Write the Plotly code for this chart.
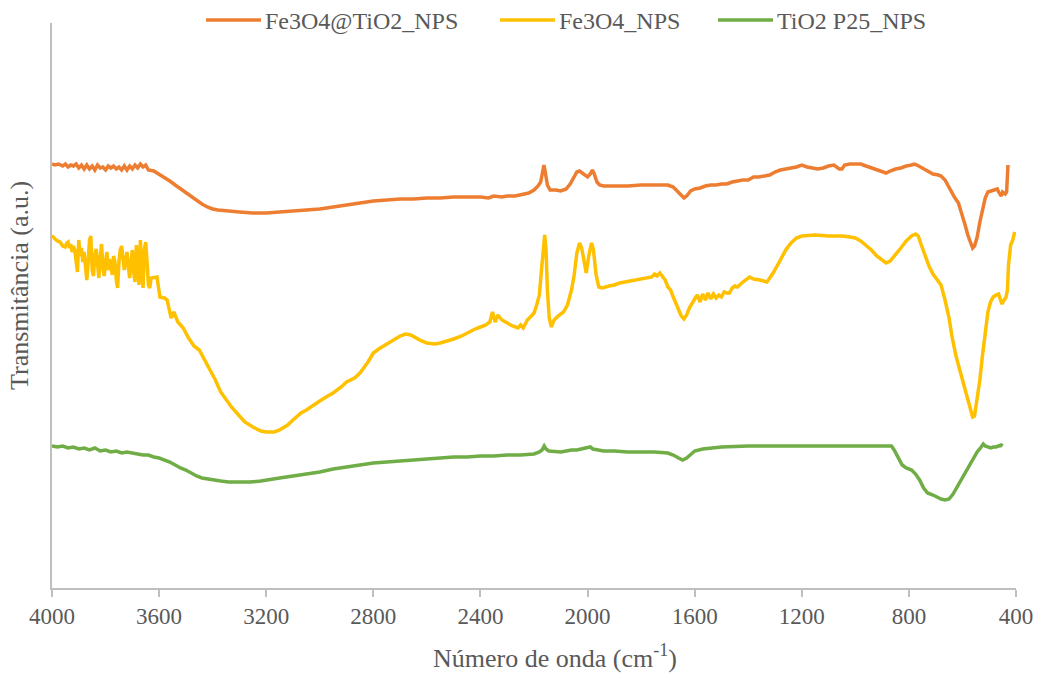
import plotly.graph_objects as go

# FTIR spectra: wavenumber (cm-1) and transmittance (arbitrary units)
fe3o4_tio2_wn = [4000, 3990, 3975, 3960, 3950, 3940, 3930, 3920, 3910, 3900, 3890, 3880, 3870, 3860,
                 3850, 3840, 3830, 3820, 3810, 3800, 3790, 3780, 3770, 3760, 3750, 3740, 3730, 3720,
                 3710, 3700, 3690, 3680, 3670, 3660, 3650, 3640, 3620, 3600, 3580, 3560, 3540, 3520,
                 3500, 3480, 3460, 3440, 3420, 3400, 3380, 3350, 3300, 3250, 3200, 3150, 3100, 3050,
                 3000, 2950, 2900, 2850, 2800, 2750, 2700, 2650, 2600, 2550, 2500, 2450, 2400, 2370,
                 2350, 2320, 2300, 2270, 2240, 2220, 2200, 2185, 2175, 2168, 2163, 2158, 2150, 2140,
                 2120, 2100, 2080, 2065, 2050, 2040, 2030, 2020, 2010, 2000, 1990, 1982, 1975, 1965,
                 1955, 1940, 1900, 1850, 1800, 1750, 1700, 1680, 1665, 1650, 1640, 1630, 1615, 1600,
                 1580, 1560, 1540, 1520, 1500, 1480, 1460, 1440, 1420, 1400, 1380, 1360, 1340, 1320,
                 1300, 1280, 1260, 1240, 1220, 1200, 1180, 1160, 1140, 1120, 1100, 1080, 1060, 1050,
                 1040, 1020, 1000, 980, 960, 940, 920, 900, 885, 870, 850, 830, 810, 790, 780, 770,
                 750, 730, 710, 690, 680, 665, 650, 640, 630, 615, 600, 590, 580, 570, 562, 555, 545,
                 535, 525, 515, 505, 495, 480, 470, 465, 460, 455, 450, 445, 440, 435, 432, 430]
fe3o4_tio2_t = [424, 423, 424, 422, 424, 421, 423, 422, 424, 420, 423, 419, 423, 419,
                422, 418, 423, 420, 421, 418, 422, 420, 422, 419, 421, 418, 422, 418,
                422, 419, 423, 420, 424, 421, 423, 418, 417, 414, 411, 407, 403, 399,
                395, 391, 387, 384, 381, 379, 378, 377, 376, 375, 375, 376, 377, 378,
                379, 381, 383, 385, 387, 388, 389, 389, 390, 390, 391, 391, 391, 390,
                392, 391, 392, 392, 394, 395, 398, 402, 406, 416, 423, 416, 403, 398,
                398, 397, 399, 404, 411, 416, 417, 415, 412, 411, 414, 418, 414, 406,
                403, 402, 402, 402, 403, 403, 403, 401, 397, 392, 390, 392, 397, 399,
                400, 402, 403, 403, 404, 404, 406, 407, 408, 408, 411, 411, 412, 413,
                416, 418, 419, 420, 421, 423, 421, 420, 419, 420, 422, 423, 419, 419,
                423, 424, 424, 424, 422, 420, 418, 416, 415, 417, 419, 420, 422, 423, 424, 423,
                420, 417, 414, 413, 412, 408, 400, 395, 391, 385, 373, 363, 353, 345, 340, 342, 351,
                366, 380, 390, 396, 397, 398, 399, 396, 393, 392, 396, 395, 394, 396, 408, 423]

fe3o4_wn = [4000, 3996, 3980, 3970, 3960, 3951, 3945, 3940,
            3935, 3930, 3925, 3920, 3915, 3910, 3905, 3900, 3895, 3890, 3885, 3880, 3875, 3870,
            3865, 3860, 3855, 3850, 3845, 3840, 3835, 3830, 3825, 3820, 3815, 3810, 3805, 3800,
            3795, 3790, 3785, 3780, 3775, 3770, 3765, 3760, 3755, 3750, 3745, 3740, 3735, 3730,
            3725, 3720, 3715, 3710, 3705, 3700, 3695, 3690, 3685, 3680, 3675, 3670, 3665, 3660,
            3655, 3650, 3645, 3640, 3635, 3630,
            3608, 3597, 3580, 3570, 3555, 3545, 3530, 3510,
            3490, 3470, 3450, 3430, 3410, 3390, 3370, 3350, 3330, 3300, 3280, 3250, 3220, 3200,
            3170, 3150, 3120, 3100, 3070, 3050, 3020, 3000, 2970, 2950, 2920, 2900, 2870, 2850,
            2820, 2800, 2780, 2750, 2720, 2700, 2680, 2660, 2640, 2620, 2600, 2570, 2550, 2520,
            2500, 2470, 2450, 2420, 2400, 2380, 2365, 2355, 2345, 2335, 2320, 2300, 2280, 2260,
            2250, 2240, 2225, 2210, 2200, 2190, 2180, 2172, 2165, 2160, 2155, 2150, 2143, 2135,
            2125, 2110, 2090, 2075, 2060, 2050, 2040, 2030, 2022, 2012, 2005, 1995, 1985, 1978,
            1968, 1958, 1945, 1920, 1900, 1880, 1860, 1840, 1820, 1800, 1780, 1760, 1750, 1740,
            1730, 1720, 1710, 1700, 1690, 1680, 1670, 1660, 1650, 1640, 1630, 1620, 1610, 1600,
            1590, 1580, 1570, 1560, 1550, 1540, 1530, 1520, 1510, 1500, 1490, 1480, 1470, 1460,
            1450, 1440, 1420, 1395, 1380, 1356, 1330, 1307, 1280, 1260, 1240, 1220, 1200, 1150,
            1100, 1050, 1020, 1000, 980, 960, 940, 920, 900, 885, 870, 850, 830, 810, 790, 775,
            765, 755, 740, 725, 710, 695, 680, 665, 650, 640, 625, 610, 595, 580, 570, 562, 555,
            545, 535, 525, 515, 505, 495, 485, 475, 465, 458, 452, 445, 438, 432, 428, 420, 412,
            405]
fe3o4_t = [350, 351, 347, 346, 342, 341, 345, 346,
           340, 344, 336, 342, 338, 326, 316, 348, 332, 340, 326, 336, 322, 308,
           326, 348, 352, 318, 312, 333, 339, 326, 310, 330, 344, 320, 312, 326,
           336, 318, 329, 322, 313, 332, 326, 308, 300, 326, 338, 342, 330, 318,
           326, 336, 322, 310, 326, 338, 316, 306, 343, 326, 303, 348, 318, 300,
           338, 346, 326, 303, 300, 310,
           311, 291, 290, 288, 270, 276, 266, 260,
           250, 242, 238, 228, 218, 208, 196, 188, 181, 172, 166, 161, 157, 156,
           156, 158, 163, 168, 175, 178, 184, 187, 192, 195, 201, 206, 210, 215,
           226, 235, 239, 244, 249, 252, 254, 253, 250, 247, 245, 244, 245, 247,
           249, 252, 255, 259, 261, 263, 266, 276, 266, 273, 268, 265, 262, 260,
           263, 260, 268, 272, 275, 283, 293, 318, 343, 353, 338, 298, 270, 261,
           268, 272, 276, 283, 298, 313, 335, 345, 340, 323, 315, 333, 345, 338,
           313, 301, 300, 302, 303, 305, 306, 307, 308, 309, 310, 311, 314, 312,
           315, 312, 308, 301, 298, 291, 285, 278, 272, 269, 273, 280, 285, 289,
           293, 286, 294, 288, 295, 289, 294, 290, 293, 291, 296, 295, 295, 300,
           302, 301, 306, 311, 309, 308, 306, 315, 328, 338, 345, 350, 352, 353,
           352, 352, 351, 350, 347, 343, 338, 332, 328, 325, 327, 333, 340, 347, 352, 354,
           352, 344, 332, 322, 314, 308, 303, 288, 270, 253, 233, 218, 203, 188, 178, 171, 172,
           188, 208, 233, 258, 276, 286, 291, 293, 294, 288, 284, 288, 290, 298, 323, 343, 348,
           356]

tio2_wn = [4000, 3980, 3960, 3940, 3920, 3900, 3880, 3860, 3840, 3820, 3800, 3780, 3760, 3740,
           3720, 3700, 3680, 3660, 3640, 3620, 3600, 3580, 3560, 3540, 3520, 3500, 3480, 3460,
           3440, 3420, 3400, 3370, 3340, 3300, 3260, 3220, 3200, 3150, 3100, 3050, 3000, 2950,
           2900, 2850, 2800, 2750, 2700, 2650, 2600, 2550, 2500, 2450, 2400, 2350, 2300, 2250,
           2200, 2180, 2170, 2162, 2155, 2145, 2120, 2100, 2080, 2060, 2040, 2020, 2000, 1990,
           1980, 1960, 1940, 1900, 1850, 1800, 1750, 1700, 1680, 1660, 1645, 1630, 1615, 1600,
           1570, 1540, 1500, 1400, 1300, 1200, 1100, 1000, 900, 880, 865, 855, 840, 825, 810,
           790, 775, 760, 745, 730, 710, 695, 680, 665, 650, 635, 620, 605, 590, 575, 560, 545,
           530, 522, 515, 505, 495, 485, 475, 465, 455, 450]
tio2_t = [142, 141, 142, 140, 141, 139, 140, 138, 140, 137, 138, 136, 137, 135,
          136, 135, 134, 133, 133, 131, 130, 128, 126, 123, 120, 118, 115, 112,
          110, 109, 108, 107, 106, 106, 106, 107, 108, 110, 112, 114, 116, 119,
          121, 123, 125, 126, 127, 128, 129, 130, 131, 131, 132, 132, 133, 133,
          134, 136, 138, 142, 139, 137, 136, 136, 137, 138, 138, 139, 140, 141,
          139, 138, 137, 137, 136, 136, 136, 135, 133, 130, 128, 130, 134, 137,
          139, 140, 141, 142, 142, 142, 142, 142, 142, 142, 142, 138, 130, 123, 120,
          118, 114, 108, 100, 95, 93, 91, 89, 88, 89, 94, 101, 108, 114, 121, 128, 136,
          141, 144, 142, 141, 140, 141, 141, 142, 143, 142]

series_names = ["Fe3O4@TiO2_NPS", "Fe3O4_NPS", "TiO2 P25_NPS"]
series_colors = ["#ED7D31", "#FFC000", "#70AD47"]
x_ticks = [4000, 3600, 3200, 2800, 2400, 2000, 1600, 1200, 800, 400]

TEXT = "#595959"
AXIS = "#BFBFBF"
FONT = "'Times New Roman', 'Liberation Serif', serif"

W, H = 1039, 675
L, R, T, B = 52, 23, 23, 87
pw, ph = W - L - R, H - T - B


def px_x(p):
    return (p - L) / pw


def px_y(p):
    return 1 - (p - T) / ph


fig = go.Figure()
for name, color, xs, ys in zip(series_names, series_colors,
                               [fe3o4_tio2_wn, fe3o4_wn, tio2_wn],
                               [fe3o4_tio2_t, fe3o4_t, tio2_t]):
    fig.add_trace(go.Scatter(x=xs, y=ys, mode="lines", name=name,
                             line=dict(color=color, width=3.5)))

# legend row across the top: line sample followed by the series name
legend_line_starts = [206, 500, 718]
shapes = []
annotations = []
for name, color, x0 in zip(series_names, series_colors, legend_line_starts):
    shapes.append(dict(type="line", xref="paper", yref="paper",
                       x0=px_x(x0), x1=px_x(x0 + 55), y0=px_y(20), y1=px_y(20),
                       line=dict(color=color, width=3.5)))
    annotations.append(dict(text=name, xref="paper", yref="paper",
                            x=px_x(x0 + 57), y=px_y(21), xanchor="left", yanchor="middle",
                            showarrow=False, font=dict(family=FONT, size=24, color=TEXT)))

annotations += [
    dict(text="Número de onda (cm<sup>-1</sup>)", xref="paper", yref="paper",
         x=px_x(555), y=px_y(656), xanchor="center", yanchor="middle",
         showarrow=False, font=dict(family=FONT, size=26, color=TEXT)),
    dict(text="Transmitância (a.u.)", xref="paper", yref="paper", textangle=-90,
         x=px_x(20), y=px_y(286), xanchor="center", yanchor="middle",
         showarrow=False, font=dict(family=FONT, size=26, color=TEXT)),
]

fig.update_layout(
    width=W, height=H,
    margin=dict(l=L, r=R, t=T, b=B, autoexpand=False),
    paper_bgcolor="white", plot_bgcolor="white",
    font=dict(family=FONT, color=TEXT, size=23),
    showlegend=False,
    xaxis=dict(range=[4000, 400], tickvals=x_ticks, ticktext=[str(v) for v in x_ticks],
               showgrid=False, zeroline=False, showline=True, linecolor=AXIS, linewidth=1.5,
               ticks="outside", ticklen=7, tickcolor=AXIS, tickwidth=1.5,
               tickfont=dict(family=FONT, size=23, color=TEXT), automargin=False),
    yaxis=dict(range=[0, 565], showgrid=False, zeroline=False, showline=True,
               linecolor=AXIS, linewidth=1.5, showticklabels=False, ticks="",
               automargin=False),
    shapes=shapes,
    annotations=annotations,
)

fig.write_html("out.html")
